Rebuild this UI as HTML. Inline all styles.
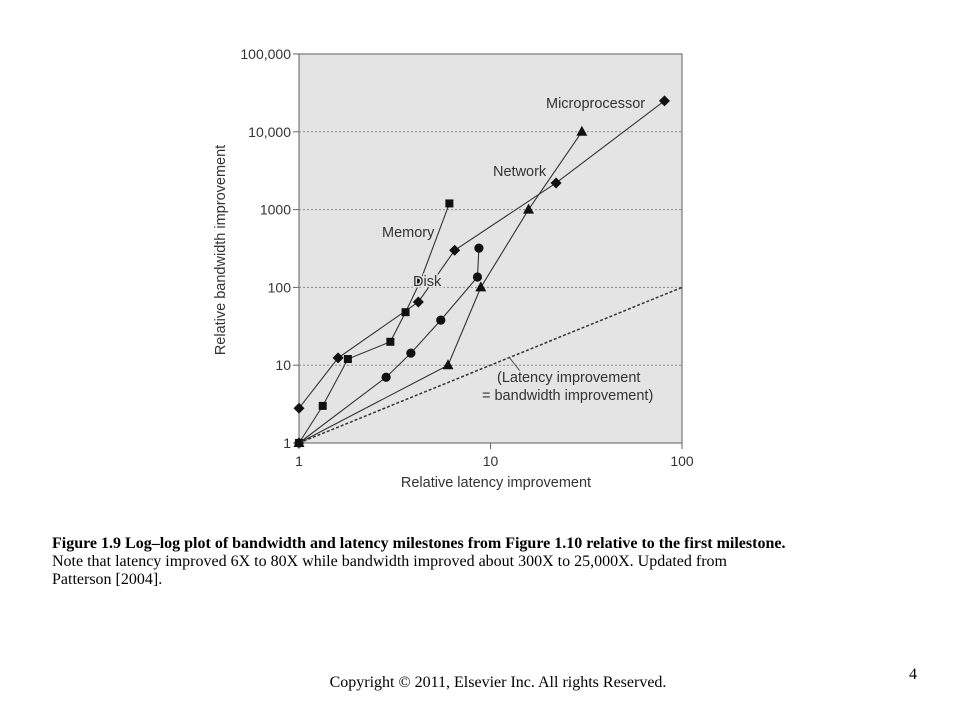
<!DOCTYPE html>
<html><head><meta charset="utf-8"><style>
body{margin:0;width:960px;height:720px;background:#fff;position:relative;overflow:hidden}
.cap{position:absolute;left:52px;font-family:"Liberation Serif",serif;font-size:16px;color:#000;white-space:nowrap}
</style></head><body>
<svg id="chart" width="960" height="520" style="position:absolute;left:0;top:0" font-family="Liberation Sans, sans-serif"></svg>
<div class="cap" style="top:535px;font-weight:bold">Figure 1.9 Log–log plot of bandwidth and latency milestones from Figure 1.10 relative to the first milestone.</div>
<div class="cap" style="top:553px">Note that latency improved 6X to 80X while bandwidth improved about 300X to 25,000X. Updated from</div>
<div class="cap" style="top:571px">Patterson [2004].</div>
<div style="position:absolute;left:0;width:996px;text-align:center;top:674px;font-family:'Liberation Serif',serif;font-size:16px">Copyright © 2011, Elsevier Inc. All rights Reserved.</div>
<div style="position:absolute;left:909px;top:666px;font-family:'Liberation Serif',serif;font-size:16px">4</div>
<script>
const xTicks=[1,10,100];
const xTickLabels=["1","10","100"];
const yTicks=[1,10,100,1000,10000,100000];
const yTickLabels=["1","10","100","1000","10,000","100,000"];
const microX=[1,1.6,4.2,6.5,22,81];
const microY=[2.8,12.4,65,300,2200,25000];
const memX=[1,1.33,1.8,3.0,3.6,4.3,6.1];
const memY=[1,3,12,20,48,120,1200];
const diskX=[1,2.85,3.84,5.5,8.55,8.7];
const diskY=[1,7,14.3,38,136,320];
const netX=[1,6.0,8.9,15.8,30];
const netY=[1,10,100,1000,10000];
const X0=299,X1=682,Y0=443,Y1=54;
const xs=v=>X0+(X1-X0)*Math.log10(v)/2;
const ys=v=>Y0-(Y0-Y1)*Math.log10(v)/5;
const svg=document.getElementById('chart');
const NS='http://www.w3.org/2000/svg';
function mk(t,a,p){const e=document.createElementNS(NS,t);for(const k in a)e.setAttribute(k,a[k]);(p||svg).appendChild(e);return e;}
let e;
e=mk('rect',{x:X0,y:Y1,width:X1-X0,height:Y0-Y1,fill:'#e4e4e4',stroke:'#777','stroke-width':1.2});


yTicks.forEach((v,i)=>{
 if(i>0&&i<yTicks.length-1){e=mk('line',{x1:X0,x2:X1,y1:ys(v),y2:ys(v),stroke:'#888','stroke-dasharray':'2,2','stroke-width':1});
 
 }
 e=mk('line',{x1:X0-6,x2:X0,y1:ys(v),y2:ys(v),stroke:'#666'});
 
 
 e=mk('text',{x:X0-8,y:ys(v)+5,'text-anchor':'end','font-size':14,fill:'#333'});e.textContent=yTickLabels[i];
 
 
});
xTicks.forEach((v,i)=>{
 e=mk('line',{x1:xs(v),x2:xs(v),y1:Y0,y2:Y0+6,stroke:'#666'});
 
 
 e=mk('text',{x:xs(v),y:Y0+23,'text-anchor':'middle','font-size':14,fill:'#333'});e.textContent=xTickLabels[i];
 
 
});
e=mk('text',{x:496,y:487,'text-anchor':'middle','font-size':14.5,fill:'#333'});e.textContent='Relative latency improvement';


e=mk('text',{x:0,y:0,'text-anchor':'middle','font-size':14.5,fill:'#333',transform:'translate(225,250) rotate(-90)'});e.textContent='Relative bandwidth improvement';


e=mk('line',{x1:xs(1),y1:ys(1),x2:xs(100),y2:ys(100),stroke:'#333','stroke-width':1.5,'stroke-dasharray':'3,2'});


e=mk('line',{x1:509,y1:357,x2:520,y2:371,stroke:'#444'});


function series(name,xv,yv,shape){
 const g=mk('g',{});
 
 
 const pts=xv.map((x,i)=>xs(x)+','+ys(yv[i])).join(' ');
 e=mk('polyline',{points:pts,fill:'none',stroke:'#333','stroke-width':1.1},g);
 
 
 xv.forEach((x,i)=>{const cx=xs(x),cy=ys(yv[i]);let m;
  if(shape==='d')m=mk('polygon',{points:`${cx},${cy-5.5} ${cx+5.5},${cy} ${cx},${cy+5.5} ${cx-5.5},${cy}`,fill:'#111'},g);
  else if(shape==='s')m=mk('rect',{x:cx-4,y:cy-4,width:8,height:8,fill:'#111'},g);
  else if(shape==='c')m=mk('circle',{cx:cx,cy:cy,r:4.6,fill:'#111'},g);
  else m=mk('polygon',{points:`${cx},${cy-6} ${cx+5.5},${cy+4} ${cx-5.5},${cy+4}`,fill:'#111'},g);
  
  
 });
}
series('microprocessor',microX,microY,'d');
series('memory',memX,memY,'s');
series('disk',diskX,diskY,'c');
series('network',netX,netY,'t');
[['Microprocessor',546,108,'microprocessor-label'],['Network',493,176,'network-label'],['Memory',382,237,'memory-label'],['Disk',413,286,'disk-label'],['(Latency improvement',497,382,'annotation-line-1'],['= bandwidth improvement)',482,400,'annotation-line-2']].forEach(l=>{
 e=mk('text',{x:l[1],y:l[2],'font-size':14.5,fill:'#333',stroke:'#e4e4e4','stroke-width':3,'paint-order':'stroke'});e.textContent=l[0];
 
 
});
</script>
</body></html>
